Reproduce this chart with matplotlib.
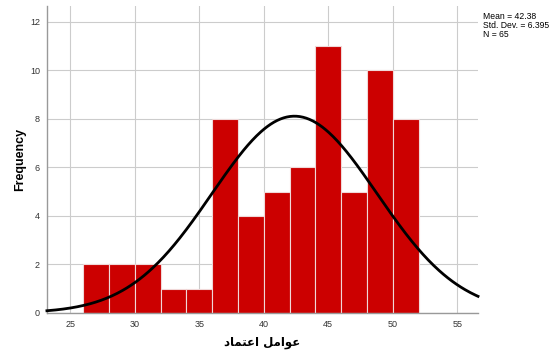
import numpy as np
import matplotlib
matplotlib.use("Agg")
import matplotlib.pyplot as plt

# histogram data (bins of width 2)
bin_edges = [26, 28, 30, 32, 34, 36, 38, 40, 42, 44, 46, 48, 50, 52]
counts = [2, 2, 2, 1, 1, 8, 4, 5, 6, 11, 5, 10, 8]
mean = 42.38
std = 6.395
n = 65

x_ticks = [25, 30, 35, 40, 45, 50, 55]
y_ticks = [0, 2, 4, 6, 8, 10, 12]

# "عوامل اعتماد" written in presentation forms, visual order
x_label = "\uFEA9\uFE8E\uFEE4\uFE98\uFECB\uFE8D \uFEDE\uFEE3\uFE8D\uFEEE\uFECB"

plt.rcParams['font.family'] = ['Liberation Sans', 'DejaVu Sans']

fig = plt.figure(figsize=(5.52, 3.54), dpi=100)
ax = fig.add_axes([0.085, 0.116, 0.781, 0.867])

lefts = bin_edges[:-1]
widths = np.diff(bin_edges)
ax.bar(lefts, counts, width=widths, align='edge', color='#cc0000',
       edgecolor='#f0d8d8', linewidth=0.8, zorder=2)

xmin, xmax = 23.2, 56.6
xs = np.linspace(xmin, xmax, 400)
binw = 2
ys = n * binw / (std * np.sqrt(2 * np.pi)) * np.exp(-0.5 * ((xs - mean) / std) ** 2)
ax.plot(xs, ys, color='black', linewidth=2, zorder=3, clip_on=False)

ax.set_xlim(xmin, xmax)
ax.set_ylim(0, 12.65)
ax.set_xticks(x_ticks)
ax.set_yticks(y_ticks)
ax.grid(True, color='#cccccc', linewidth=0.8, zorder=0)
ax.set_axisbelow(True)
ax.tick_params(length=0, labelsize=6.5, colors='#333333', pad=5)
for s in ['top', 'right']:
    ax.spines[s].set_visible(False)
for s in ['left', 'bottom']:
    ax.spines[s].set_color('#999999')
    ax.spines[s].set_linewidth(1)

ax.set_ylabel('Frequency', fontsize=9, fontweight='bold', labelpad=3)
ax.set_xlabel(x_label, fontsize=8.5, fontweight='bold', family=['DejaVu Sans'], labelpad=5)

fig.text(0.875, 0.965, f"Mean = {mean}\nStd. Dev. = {std}\nN = {n}",
         fontsize=6.2, va='top', ha='left', linespacing=1.0)

fig.savefig('out.png', dpi=100)
